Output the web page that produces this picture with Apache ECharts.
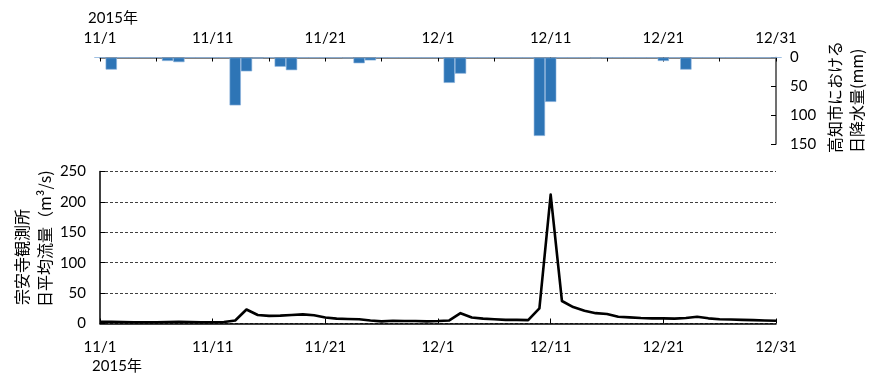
<!DOCTYPE html>
<html>
<head>
<meta charset="utf-8">
<script src="https://cdn.jsdelivr.net/npm/echarts@6/dist/echarts.min.js"></script>
<style>
  html, body { margin: 0; padding: 0; background: #fff; }
  #chart { width: 875px; height: 374px; }
</style>
</head>
<body>
<div id="chart"></div>
<script>
// Daily dates, 2015-11-01 .. 2015-12-31
const dates = [
  '11/1','11/2','11/3','11/4','11/5','11/6','11/7','11/8','11/9','11/10',
  '11/11','11/12','11/13','11/14','11/15','11/16','11/17','11/18','11/19','11/20',
  '11/21','11/22','11/23','11/24','11/25','11/26','11/27','11/28','11/29','11/30',
  '12/1','12/2','12/3','12/4','12/5','12/6','12/7','12/8','12/9','12/10',
  '12/11','12/12','12/13','12/14','12/15','12/16','12/17','12/18','12/19','12/20',
  '12/21','12/22','12/23','12/24','12/25','12/26','12/27','12/28','12/29','12/30',
  '12/31'
];

// Daily precipitation at Kochi city (mm)
const rainfall = [
  0, 21, 0, 0, 0, 0, 6, 8, 0, 0,
  0, 0, 83, 24, 1.5, 0, 16, 22, 0, 0,
  0, 0, 1, 10, 5, 0, 0, 0, 0, 0,
  0, 44, 28, 0, 0, 0, 0, 0, 0, 136,
  77, 0, 0, 0, 1, 0, 0, 0, 0, 0,
  6, 0, 21, 0, 0, 0, 0, 0, 0, 0,
  0
];

// Daily mean discharge at the Sōanji gauging station (m3/s)
const discharge = [
  3, 3, 2.5, 2, 2, 2, 2.5, 3, 2.5, 2,
  2, 2.5, 5, 23, 14, 12.5, 13, 14, 15, 13.5,
  10, 8, 7.5, 7, 5, 3.5, 4.5, 4, 4, 3.5,
  4, 5, 17, 10, 8, 7, 6, 6, 5.5, 25,
  212, 37, 27, 21, 17, 15.5, 11, 10, 9, 8.5,
  8.5, 8, 9, 11, 8.5, 7, 6.5, 6, 5.5, 5,
  4.5
];

const rainTicks = [0, 50, 100, 150];
const flowTicks = [0, 50, 100, 150, 200, 250];
const yearLabel = '2015年';
const rainTitle = ['高知市における', '日降水量(mm)'];
const flowTitle = ['宗安寺観測所', '日平均流量（m³/s)'];

const latin = 'Lato, "Noto Sans CJK JP", sans-serif';
const cjk = '"Noto Sans CJK JP", sans-serif';

const chart = echarts.init(document.getElementById('chart'), null, { renderer: 'canvas' });

const option = {
  animation: false,
  backgroundColor: '#ffffff',
  textStyle: { fontFamily: latin },
  grid: [
    { left: 100, right: 99, top: 57.5, height: 86.5, containLabel: false },
    { left: 100, right: 99, top: 171.5, bottom: 50.5, containLabel: false }
  ],
  xAxis: [
    {
      type: 'category', gridIndex: 0, data: dates, position: 'top',
      boundaryGap: false,
      axisLine: { lineStyle: { color: '#595959', width: 1.5 } },
      axisTick: { inside: true, length: 4, interval: 4, lineStyle: { color: '#000', width: 1 } },
      axisLabel: { interval: 9, margin: 12, fontSize: 15, color: '#000', fontFamily: latin },
      splitLine: { show: false }
    },
    {
      type: 'category', gridIndex: 1, data: dates, position: 'bottom',
      boundaryGap: false,
      axisLine: { lineStyle: { color: '#000', width: 1.5 } },
      axisTick: { inside: true, length: 5, interval: 9, lineStyle: { color: '#000', width: 1 } },
      axisLabel: { interval: 9, margin: 16, fontSize: 15, color: '#000', fontFamily: latin },
      splitLine: { show: false }
    }
  ],
  yAxis: [
    {
      type: 'value', gridIndex: 0, position: 'right', inverse: true,
      min: rainTicks[0], max: rainTicks[rainTicks.length - 1], interval: 50,
      axisLine: { show: true, lineStyle: { color: '#404040', width: 1.5 } },
      axisTick: { show: true, inside: true, length: 5, lineStyle: { color: '#000' } },
      axisLabel: { margin: 14, fontSize: 15, color: '#000', fontFamily: latin },
      splitLine: { show: false }
    },
    {
      type: 'value', gridIndex: 1, position: 'left',
      min: flowTicks[0], max: flowTicks[flowTicks.length - 1], interval: 50,
      axisLine: { show: true, lineStyle: { color: '#000', width: 1.5 } },
      axisTick: { show: true, inside: true, length: 5, lineStyle: { color: '#000' } },
      axisLabel: { margin: 14, fontSize: 15, color: '#000', fontFamily: latin },
      splitLine: { show: true, lineStyle: { color: '#404040', type: [3, 2], width: 1 } }
    }
  ],
  series: [
    {
      name: '日降水量', type: 'bar', xAxisIndex: 0, yAxisIndex: 0,
      data: rainfall, barWidth: 11.3, barGap: '0%',
      itemStyle: { color: '#2e75b6', borderColor: '#8db3dd', borderWidth: 0.6 }
    },
    {
      name: '日平均流量', type: 'line', xAxisIndex: 1, yAxisIndex: 1,
      data: discharge, showSymbol: false, symbol: 'none',
      lineStyle: { color: '#000', width: 2.6, join: 'round' }
    }
  ],
  graphic: [
    { type: 'text', x: 113, y: 18, style: { text: yearLabel, font: '15px ' + latin, fill: '#000', textAlign: 'center', textVerticalAlign: 'middle' } },
    { type: 'text', x: 117, y: 366, style: { text: yearLabel, font: '15px ' + latin, fill: '#000', textAlign: 'center', textVerticalAlign: 'middle' } },
    { type: 'text', x: 835, y: 153, rotation: Math.PI / 2, style: { text: rainTitle[0], font: '16px ' + cjk, fill: '#000', textAlign: 'left', textVerticalAlign: 'middle' } },
    { type: 'text', x: 857, y: 153, rotation: Math.PI / 2, style: { text: rainTitle[1], font: '16px ' + cjk, fill: '#000', textAlign: 'left', textVerticalAlign: 'middle' } },
    { type: 'text', x: 22, y: 305, rotation: Math.PI / 2, style: { text: flowTitle[0], font: '16px ' + cjk, fill: '#000', textAlign: 'left', textVerticalAlign: 'middle' } },
    { type: 'text', x: 45, y: 307, rotation: Math.PI / 2, style: { text: flowTitle[1], font: '16px ' + cjk, fill: '#000', textAlign: 'left', textVerticalAlign: 'middle' } }
  ]
};

chart.setOption(option);
</script>
</body>
</html>
